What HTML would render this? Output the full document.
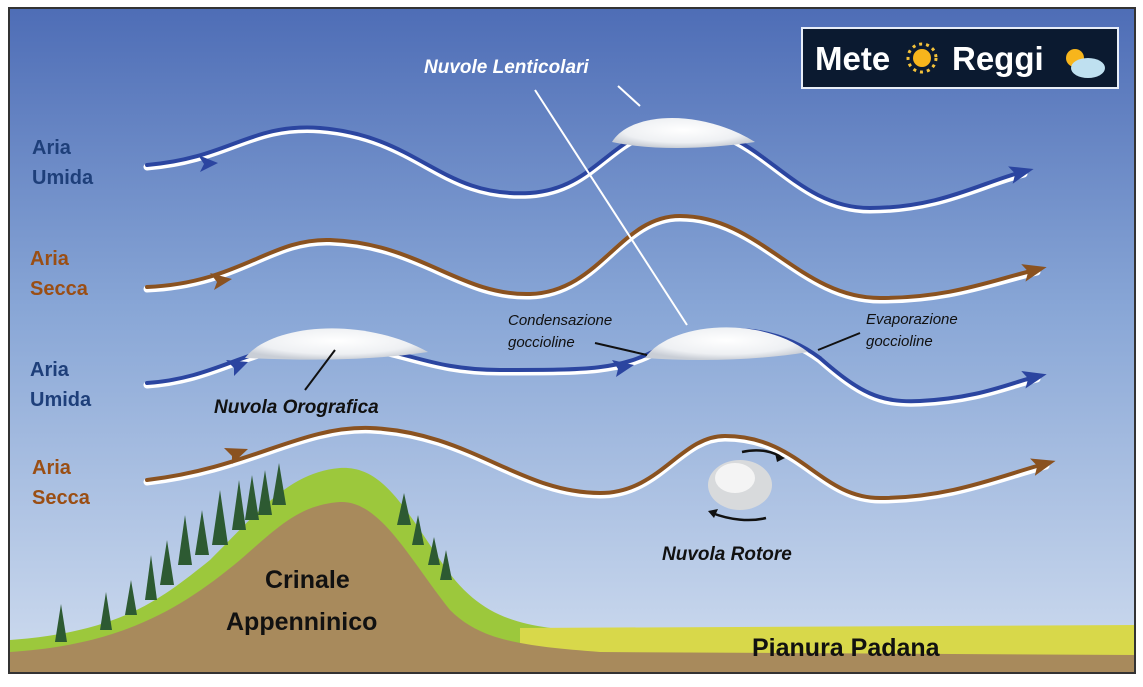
<!DOCTYPE html>
<html><head><style>
body{margin:0;background:#fff;width:1143px;height:687px;overflow:hidden}
svg{display:block}
text{font-family:"Liberation Sans",sans-serif}
.b{font-weight:bold}
</style></head><body>
<svg width="1143" height="687" viewBox="0 0 1143 687">
<defs>
<linearGradient id="sky" x1="0" y1="0" x2="0" y2="1">
<stop offset="0" stop-color="#4e6db6"/><stop offset="0.45" stop-color="#88a6d6"/><stop offset="1" stop-color="#cfdcef"/>
</linearGradient>
<radialGradient id="cl" cx="0.5" cy="0.4" r="0.6"><stop offset="0" stop-color="#fff"/><stop offset="0.7" stop-color="#eef0f3"/><stop offset="1" stop-color="#c9ced6"/></radialGradient>
<marker id="ab" markerWidth="26" markerHeight="20" refX="12" refY="10" orient="auto" markerUnits="userSpaceOnUse"><path d="M0,1 L24,10 L0,19 L5,10 Z" fill="#2b45a0"/></marker>
<marker id="ar" markerWidth="26" markerHeight="20" refX="12" refY="10" orient="auto" markerUnits="userSpaceOnUse"><path d="M0,1 L24,10 L0,19 L5,10 Z" fill="#8a5220"/></marker>
</defs>
<rect x="9" y="8" width="1126" height="665" fill="url(#sky)" stroke="#333" stroke-width="2"/>
<!-- ground -->
<path d="M10,640 C120,632 160,600 210,560 C260,510 290,472 340,468 C380,466 400,500 440,560 C480,620 520,628 600,632 L1134,632 L1134,672 L10,672Z" fill="#9cc83c"/>
<path d="M520,628 L1134,625 L1134,655 L520,655Z" fill="#d8d84a"/>
<path d="M10,652 C120,645 180,610 240,560 C280,525 300,505 340,502 C380,500 410,560 450,610 C480,640 520,646 600,652 L1134,655 L1134,672 L10,672Z" fill="#a88a5c"/>
<g fill="#2d5a32">
<path d="M55,642 l6,-38 l6,38z"/><path d="M100,630 l6,-38 l6,38z"/><path d="M125,615 l6,-35 l6,35z"/><path d="M145,600 l6,-45 l6,45z"/><path d="M160,585 l7,-45 l7,45z"/><path d="M178,565 l7,-50 l7,50z"/><path d="M195,555 l7,-45 l7,45z"/><path d="M212,545 l8,-55 l8,55z"/><path d="M232,530 l7,-50 l7,50z"/><path d="M245,520 l7,-45 l7,45z"/><path d="M258,515 l7,-45 l7,45z"/><path d="M272,505 l7,-42 l7,42z"/><path d="M397,525 l7,-32 l7,32z"/><path d="M412,545 l6,-30 l6,30z"/><path d="M428,565 l6,-28 l6,28z"/><path d="M440,580 l6,-30 l6,30z"/>
</g>
<!-- flows -->
<g fill="none" stroke-linecap="round">
<path d="M147,167 C230,160 250,125 320,130 C420,138 440,200 530,195 C600,190 610,130 680,128 C760,126 790,210 870,210 C940,210 980,185 1024,174" stroke="#fff" stroke-width="7"/>
<path d="M147,165 C230,158 250,123 320,128 C420,136 440,198 530,193 C600,188 610,128 680,126 C760,124 790,208 870,208 C940,208 980,183 1022,172" stroke="#2b45a0" stroke-width="4" marker-end="url(#ab)"/>
<path d="M147,289 C240,285 270,240 330,242 C420,245 460,298 530,296 C600,294 620,218 680,218 C760,218 800,300 880,300 C950,300 990,283 1037,272" stroke="#fff" stroke-width="7"/>
<path d="M147,287 C240,283 270,238 330,240 C420,243 460,296 530,294 C600,292 620,216 680,216 C760,216 800,298 880,298 C950,298 990,281 1035,270" stroke="#8a5220" stroke-width="4" marker-end="url(#ar)"/>
<path d="M147,385 C220,380 250,345 320,345 C400,345 420,372 500,372 C590,372 620,372 660,350 C720,320 780,330 820,360 C860,395 880,405 920,403 C980,400 1010,385 1037,379" stroke="#fff" stroke-width="7"/>
<path d="M147,383 C220,378 250,343 320,343 C400,343 420,370 500,370 C590,370 620,370 660,348 C720,318 780,328 820,358 C860,393 880,403 920,401 C980,398 1010,383 1035,377" stroke="#2b45a0" stroke-width="4" marker-end="url(#ab)"/>
<path d="M147,482 C250,470 300,428 370,430 C470,434 520,495 600,495 C660,495 680,438 725,438 C800,438 820,500 880,500 C950,500 1000,478 1046,466" stroke="#fff" stroke-width="7"/>
<path d="M147,480 C250,468 300,426 370,428 C470,432 520,493 600,493 C660,493 680,436 725,436 C800,436 820,498 880,498 C950,498 1000,476 1044,464" stroke="#8a5220" stroke-width="4" marker-end="url(#ar)"/>
</g>
<!-- mid arrows -->
<path d="M198,155 L218,163 L200,172 L204,164Z" fill="#2b45a0"/>
<path d="M210,273 L232,279 L214,290 L217,282Z" fill="#8a5220"/>
<path d="M226,360 L248,362 L234,376 L234,368Z" fill="#2b45a0"/>
<path d="M612,360 L634,365 L616,377 L618,369Z" fill="#2b45a0"/>
<path d="M224,448 L248,449 L232,464 L232,456Z" fill="#8a5220"/>
<!-- clouds -->
<path d="M612,142 C630,112 700,108 755,142 C700,150 650,150 612,142Z" fill="url(#cl)"/>
<path d="M245,358 C270,325 360,315 428,352 C360,362 300,360 245,358Z" fill="url(#cl)"/>
<path d="M645,358 C670,322 760,315 808,352 C760,360 700,362 645,358Z" fill="url(#cl)"/>
<ellipse cx="740" cy="485" rx="32" ry="25" fill="#d8dadc"/><ellipse cx="735" cy="478" rx="20" ry="15" fill="#f4f4f4"/>
<g fill="none" stroke="#111" stroke-width="2.5">
<path d="M742,452 C760,448 775,452 782,458"/><path d="M766,518 C750,522 730,520 712,513"/>
</g>
<path d="M785,458 l-10,-5 l2,9z M708,511 l10,-2 l-4,9z" fill="#111"/>
<!-- leader lines -->
<g stroke-width="2">
<line x1="535" y1="90" x2="687" y2="325" stroke="#fff"/>
<line x1="618" y1="86" x2="640" y2="106" stroke="#fff"/>
<line x1="305" y1="390" x2="335" y2="350" stroke="#111"/>
<line x1="595" y1="343" x2="647" y2="355" stroke="#111"/>
<line x1="818" y1="350" x2="860" y2="333" stroke="#111"/>
</g>
<!-- labels -->
<g font-size="20" class="b">
<text x="32" y="154" fill="#1e3f7a">Aria</text><text x="32" y="184" fill="#1e3f7a">Umida</text>
<text x="30" y="265" fill="#9a4e14">Aria</text><text x="30" y="295" fill="#9a4e14">Secca</text>
<text x="30" y="376" fill="#1e3f7a">Aria</text><text x="30" y="406" fill="#1e3f7a">Umida</text>
<text x="32" y="474" fill="#9a4e14">Aria</text><text x="32" y="504" fill="#9a4e14">Secca</text>
</g>
<g font-size="19" font-style="italic" class="b">
<text x="424" y="73" fill="#fff">Nuvole Lenticolari</text>
<text x="214" y="413" fill="#111">Nuvola Orografica</text>
<text x="662" y="560" fill="#111">Nuvola Rotore</text>
</g>
<g font-size="15" font-style="italic" fill="#111">
<text x="508" y="325">Condensazione</text><text x="508" y="347">goccioline</text>
<text x="866" y="324">Evaporazione</text><text x="866" y="346">goccioline</text>
</g>
<g font-size="25" fill="#111" class="b">
<text x="265" y="588">Crinale</text><text x="226" y="630">Appenninico</text>
<text x="752" y="656">Pianura Padana</text>
</g>
<!-- logo -->
<rect x="802" y="28" width="316" height="60" fill="#0b1a30" stroke="#e8eef8" stroke-width="2"/>
<text x="815" y="70" font-size="33" fill="#fff" class="b">Mete</text>
<circle cx="922" cy="58" r="9" fill="#f7b51c"/><circle cx="922" cy="58" r="14" fill="none" stroke="#f4c23a" stroke-width="3" stroke-dasharray="3 4"/>
<text x="952" y="70" font-size="33" fill="#fff" class="b">Reggi</text>
<circle cx="1075" cy="58" r="9" fill="#f7b51c"/>
<ellipse cx="1088" cy="68" rx="17" ry="10" fill="#bfe0f0"/>
</svg>
</body></html>
